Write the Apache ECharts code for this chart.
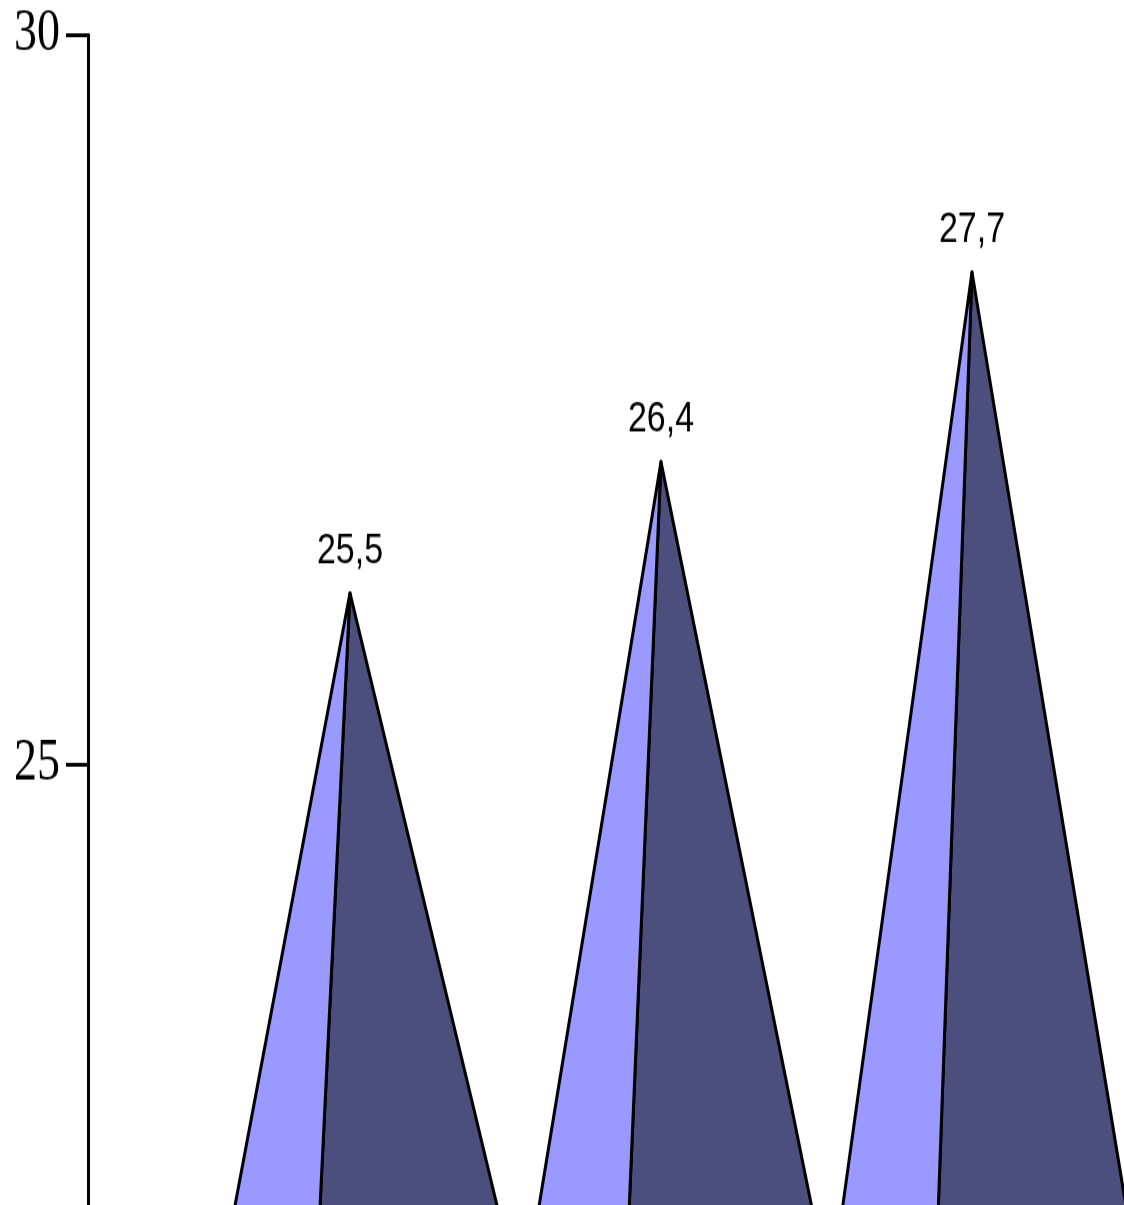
<!DOCTYPE html>
<html>
<head>
<meta charset="utf-8">
<script src="https://cdn.jsdelivr.net/npm/echarts@6/dist/echarts.min.js"></script>
<style>
  html, body { margin: 0; padding: 0; background: #ffffff; overflow: hidden; }
  #wrap { width: 1124px; height: 1205px; overflow: hidden; }
  /* the drawing is stretched vertically */
  #chart { width: 1124px; height: 1200px; transform: scaleY(1.28); transform-origin: 0 0; }
</style>
</head>
<body>
<div id="wrap"><div id="chart"></div></div>
<script>
// pyramid heights
const categories = ['1', '2', '3'];
const values = [25.5, 26.4, 27.7];
const yMin = 20, yMax = 30, yStep = 5;

const FRONT_COLOR = '#9999FF';
const SIDE_COLOR = '#4C4F7E';
const FRONT_WIDTH = 125;   // front face base width (px)
const DEPTH_X = 213;       // oblique depth offset, x
const DEPTH_Y = 153;       // oblique depth offset, y (pre-stretch)
const LABEL_GAP = 33;

const chart = echarts.init(document.getElementById('chart'), null, { renderer: 'canvas' });

function renderPyramid(params, api) {
  const i = api.value(0);
  const v = api.value(1);
  const top = api.coord([i, v]);
  const base = api.coord([i, yMin]);
  const xc = top[0];
  const yb = base[1];
  const half = FRONT_WIDTH / 2;
  // apex sits over the centre of the square base
  const ax = xc + DEPTH_X / 2;
  const ay = top[1] - DEPTH_Y / 2;
  const fl = [xc - half, yb];
  const fr = [xc + half, yb];
  const br = [xc + half + DEPTH_X, yb - DEPTH_Y];
  const edge = { stroke: '#000000', lineWidth: 3, lineJoin: 'round' };
  return {
    type: 'group',
    children: [
      { type: 'polygon', shape: { points: [fr, br, [ax, ay]] },
        style: Object.assign({ fill: SIDE_COLOR }, edge) },
      { type: 'polygon', shape: { points: [fl, fr, [ax, ay]] },
        style: Object.assign({ fill: FRONT_COLOR }, edge) },
      { type: 'text',
        style: { text: v.toFixed(1).replace('.', ','), x: ax, y: ay - LABEL_GAP,
                 align: 'center', verticalAlign: 'middle',
                 fontSize: 34, fontFamily: 'Liberation Sans', fill: '#000000' } }
    ]
  };
}

chart.setOption({
  animation: false,
  backgroundColor: '#ffffff',
  textStyle: { fontFamily: 'Liberation Serif' },
  grid: { left: 88, top: 27.3, width: 933, bottom: 33.6, containLabel: false },
  xAxis: {
    type: 'category',
    data: categories,
    show: false
  },
  yAxis: {
    type: 'value',
    min: yMin, max: yMax, interval: yStep,
    splitLine: { show: false },
    axisLine: { show: true, lineStyle: { color: '#000000', width: 3 } },
    axisTick: { show: true, inside: false, length: 22, lineStyle: { color: '#000000', width: 3 } },
    axisLabel: { margin: 28, color: '#000000', fontSize: 46, fontFamily: 'Liberation Serif' }
  },
  series: [{
    type: 'custom',
    clip: false,
    renderItem: renderPyramid,
    data: values.map((v, i) => [i, v])
  }]
});
</script>
</body>
</html>
